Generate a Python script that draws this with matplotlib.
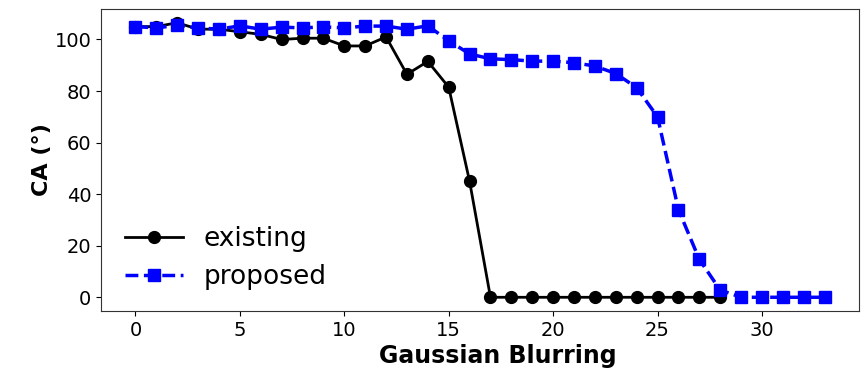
import matplotlib
matplotlib.use("Agg")
import matplotlib.pyplot as plt

blur = list(range(34))

existing = [105, 105, 106.5, 104, 104, 103, 102, 100, 100.5, 100.5, 97.5, 97.5, 101,
            86.5, 91.5, 81.5, 45] + [0] * 12
proposed = [105, 104.5, 105.5, 104.5, 104, 105.3, 104, 104.8, 104.5, 104.9, 104.5, 105.2,
            105.2, 104, 105.3, 99.5, 94.4, 92.5, 92.2, 91.6, 91.6, 91, 89.7, 86.8, 81.3,
            70, 34, 14.7, 2.8, 0, 0, 0, 0, 0]

fig = plt.figure(figsize=(8.66, 3.71), dpi=100)
ax = fig.add_axes([0.1166, 0.1617, 0.8754, 0.814])

ax.plot(blur[:len(existing)], existing, "-o", color="black", lw=2, markersize=8.5,
        label="existing")
ax.plot(blur[:len(proposed)], proposed, "--s", color="blue", lw=2.5, markersize=8.5,
        label="proposed")

ax.set_xlabel("Gaussian Blurring", fontsize=17, fontweight="bold", labelpad=3, x=0.524)
ax.set_ylabel("CA (°)", fontsize=16, fontweight="bold", labelpad=2)
ax.tick_params(labelsize=14)
ax.set_xticks([0, 5, 10, 15, 20, 25, 30])
ax.set_yticks([0, 20, 40, 60, 80, 100])
ax.legend(loc="lower left", fontsize=19, frameon=False, handlelength=2.2,
          labelspacing=0.45, bbox_to_anchor=(0.0, -0.01))
for s in ax.spines.values():
    s.set_color("#333333")

fig.savefig("out.png", dpi=100)
